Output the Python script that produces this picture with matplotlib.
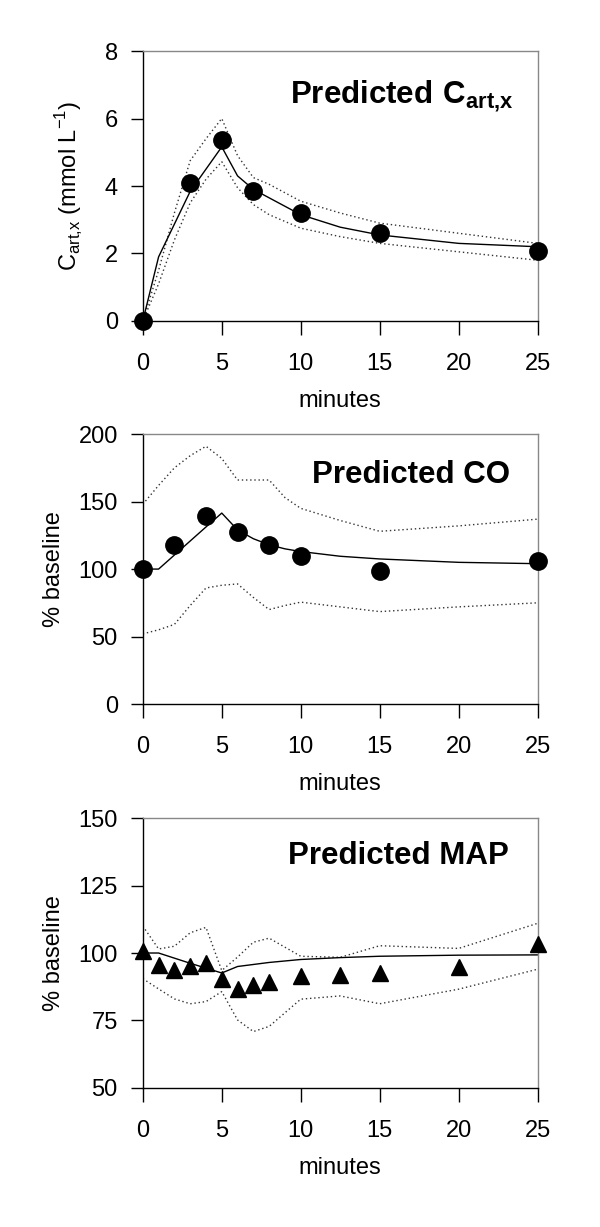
import numpy as np
import matplotlib
matplotlib.use('Agg')
import matplotlib.pyplot as plt

plt.rcParams['font.family'] = ['Liberation Sans', 'DejaVu Sans']
plt.rcParams['mathtext.fontset'] = 'custom'
plt.rcParams['mathtext.rm'] = 'Liberation Sans'
plt.rcParams['mathtext.bf'] = 'Liberation Sans:bold'

# --- panel 1: arterial concentration (mmol/L)
cart_obs_t = [0, 3, 5, 7, 10, 15, 25]
cart_obs = [0, 4.08, 5.36, 3.86, 3.19, 2.62, 2.07]
cart_mod_t = [0, 1, 2, 3, 4, 5, 6, 7, 8, 10, 12.5, 15, 20, 25]
cart_mod = [0, 1.9, 2.87, 3.84, 4.5, 5.16, 4.3, 3.9, 3.65, 3.15, 2.78, 2.55, 2.3, 2.2]
cart_hi = [0, 1.5, 3.2, 4.75, 5.4, 6.0, 4.9, 4.25, 4.05, 3.55, 3.2, 2.9, 2.6, 2.3]
cart_lo = [0, 1.1, 2.4, 3.5, 4.2, 4.72, 3.95, 3.45, 3.15, 2.75, 2.5, 2.3, 2.05, 1.8]

# --- panel 2: cardiac output (% baseline)
co_obs_t = [0, 2, 4, 6, 8, 10, 15, 25]
co_obs = [100, 118, 139, 127.5, 118, 110, 98.4, 106]
co_mod_t = [0, 1, 2, 3, 4, 5, 6, 7, 8, 9, 10, 12.5, 15, 20, 25]
co_mod = [100, 100, 110.4, 120.8, 131.2, 141.5, 129, 122.5, 118, 115, 113, 109.5, 107.5, 105, 104]
co_hi = [148, 162, 175, 184, 191, 182, 166, 166, 166, 153, 145, 136, 128, 132, 137]
co_lo = [52, 55, 59, 73, 86, 88, 89, 79, 70, 73, 75.5, 72, 68.5, 72, 75]

# --- panel 3: mean arterial pressure (% baseline)
map_obs_t = [0, 1, 2, 3, 4, 5, 6, 7, 8, 10, 12.5, 15, 20, 25]
map_obs = [100.9, 95.4, 93.7, 95.3, 96.2, 90.4, 86.7, 88.2, 89.4, 91.3, 91.9, 92.5, 95, 103.2]
map_mod_t = [0, 1, 2, 3, 4, 5, 6, 8, 10, 12.5, 15, 20, 25]
map_mod = [100, 100, 98.1, 96.2, 94.4, 92.6, 95, 96.5, 97.6, 98.3, 98.8, 99.2, 99.3]
map_hi_t = [0, 1, 2, 3, 4, 5, 6, 7, 8, 10, 12.5, 15, 20, 25]
map_hi = [110, 101.5, 102.5, 107.5, 109.5, 93.5, 98.5, 104, 105.5, 98.8, 98.4, 102.7, 101.7, 111]
map_lo = [90.5, 86.7, 83, 81.2, 82, 85.7, 75.2, 70.9, 72.8, 82.9, 84.1, 81.2, 86.6, 94]

xticks = [0, 5, 10, 15, 20, 25]

fig = plt.figure(figsize=(6, 12.27), dpi=100)

left, width, height = 0.238, 0.658, 0.22
bottoms = [0.7384, 0.4262, 0.1133]
fs = 17


def style_axes(ax, ylim, yticks):
    ax.set_xlim(0, 25)
    ax.set_ylim(*ylim)
    ax.set_xticks(xticks)
    ax.set_yticks(yticks)
    ax.tick_params(direction='out', width=1, labelsize=fs, color='black')
    ax.tick_params(axis='x', length=10, pad=13)
    ax.tick_params(axis='y', length=9, pad=9)
    ax.tick_params(top=False, right=False)
    for side in ['left', 'bottom']:
        ax.spines[side].set_color('black')
        ax.spines[side].set_linewidth(1.0)
    for side in ['top', 'right']:
        ax.spines[side].set_color('#888888')
        ax.spines[side].set_linewidth(1.0)
    ax.set_xlabel('minutes', fontsize=fs, labelpad=11)


dot = (0, (1, 2))

# panel 1
ax1 = fig.add_axes([left, bottoms[0], width, height])
ax1.plot(cart_mod_t, cart_hi, color='#333333', lw=1, ls=dot)
ax1.plot(cart_mod_t, cart_lo, color='#333333', lw=1, ls=dot)
ax1.plot(cart_mod_t, cart_mod, color='black', lw=1)
ax1.plot(cart_obs_t, cart_obs, 'o', color='black', ms=12.5, clip_on=False, zorder=5)
style_axes(ax1, (0, 8), [0, 2, 4, 6, 8])
ax1.set_ylabel(r'C$_{\mathregular{art{,}x}}$ (mmol L$^{\mathregular{-1}}$)', fontsize=fs, labelpad=14)
ax1.text(0.938, 0.807, r'$\mathbf{Predicted\ C_{art{,}x}}$', transform=ax1.transAxes,
         ha='right', va='baseline', fontsize=22.5)

# panel 2
ax2 = fig.add_axes([left, bottoms[1], width, height])
ax2.plot(co_mod_t, co_hi, color='#333333', lw=1, ls=dot)
ax2.plot(co_mod_t, co_lo, color='#333333', lw=1, ls=dot)
ax2.plot(co_mod_t, co_mod, color='black', lw=1)
ax2.plot(co_obs_t, co_obs, 'o', color='black', ms=12.5, clip_on=False, zorder=5)
style_axes(ax2, (0, 200), [0, 50, 100, 150, 200])
ax2.set_ylabel('% baseline', fontsize=fs, labelpad=10)
ax2.text(0.93, 0.819, 'Predicted CO', transform=ax2.transAxes,
         ha='right', va='baseline', fontsize=22.5, fontweight='bold')

# panel 3
ax3 = fig.add_axes([left, bottoms[2], width, height])
ax3.plot(map_hi_t, map_hi, color='#333333', lw=1, ls=dot)
ax3.plot(map_hi_t, map_lo, color='#333333', lw=1, ls=dot)
ax3.plot(map_mod_t, map_mod, color='black', lw=1)
ax3.plot(map_obs_t, map_obs, '^', color='black', ms=12, clip_on=False, zorder=5)
style_axes(ax3, (50, 150), [50, 75, 100, 125, 150])
ax3.set_ylabel('% baseline', fontsize=fs, labelpad=10)
ax3.text(0.926, 0.83, 'Predicted MAP', transform=ax3.transAxes,
         ha='right', va='baseline', fontsize=22.5, fontweight='bold')

fig.savefig('out.png', dpi=100)
